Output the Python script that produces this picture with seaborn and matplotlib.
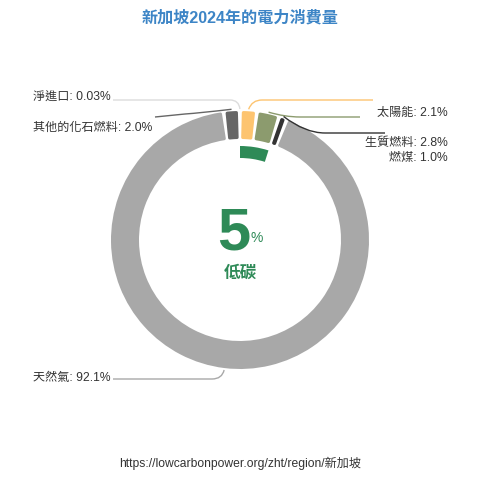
import numpy as np
import matplotlib
matplotlib.use("Agg")
import matplotlib.pyplot as plt
from matplotlib.path import Path
from matplotlib.patches import PathPatch
import seaborn as sns

# ---- data ----
categories = ["太陽能", "生質燃料", "燃煤", "天然氣", "其他的化石燃料", "淨進口"]
values = [2.1, 2.8, 1.0, 92.1, 2.0, 0.03]
colors = ["#fdc470", "#8c9b6e", "#333333", "#a8a8a8", "#666666", "#dcdcdc"]
low_carbon = ["太陽能", "生質燃料"]
title = "新加坡2024年的電力消費量"
source = "https://lowcarbonpower.org/zht/region/新加坡"
center_label = "低碳"

sns.set_theme(style="white")
plt.rcParams["font.family"] = ["Liberation Sans", "Noto Sans CJK TC", "DejaVu Sans"]

W = H = 480
fig = plt.figure(figsize=(4.8, 4.8), dpi=100)
ax = fig.add_axes([0, 0, 1, 1])
ax.set_xlim(0, W)
ax.set_ylim(0, H)
ax.set_aspect("equal")
ax.axis("off")

def Y(py):
    return H - py

cx, cy = 240, Y(240)
R_out, ring = 129, 28
stroke_px = 3.0
pt_per_px = 72 / 100

wedges, _ = ax.pie(values, colors=colors, startangle=90, counterclock=False,
                   center=(cx, cy), radius=R_out - stroke_px / 2,
                   wedgeprops=dict(width=ring - stroke_px, linewidth=0))
mid_r = R_out - ring / 2
shrink = np.degrees((stroke_px / 2 + 1.5) / mid_r)
for w, c in zip(wedges, colors):
    t1, t2 = w.theta1, w.theta2
    if t2 - t1 <= 2 * shrink:
        w.set_visible(False)
        continue
    w.set_theta1(t1 + shrink)
    w.set_theta2(t2 - shrink)
    w.set_edgecolor(c)
    w.set_linewidth(stroke_px * pt_per_px)
    w.set_joinstyle("round")

# inner low-carbon arc
lc_total = sum(v for k, v in zip(categories, values) if k in low_carbon)
green = "#2e8a57"
ax.pie([lc_total, 100 - lc_total], colors=[green, "none"], startangle=90,
       counterclock=False, center=(cx, cy), radius=94,
       wedgeprops=dict(width=12, linewidth=0))
ax.set_xlim(0, W)
ax.set_ylim(0, H)

cum = np.cumsum([0] + values)
tot = sum(values)
def anchor_pt(i, r=131):
    a = np.radians((cum[i] + cum[i + 1]) / 2 / tot * 360)  # clockwise from top
    return cx + r * np.sin(a), cy + r * np.cos(a)

def leader(p0, ctrl, p1, p2, color):
    verts = [p0, ctrl, p1, p2]
    codes = [Path.MOVETO, Path.CURVE3, Path.CURVE3, Path.LINETO]
    ax.add_patch(PathPatch(Path(verts, codes), fc="none", ec=color, lw=1.0))

def fmt(v):
    return f"{v:.2f}" if v < 0.1 else f"{v:.1f}"

txt_color = "#333333"
fs = 8.7
# (ctrl, corner, end, text_x, text_y, ha) per slice index
specs = {
    0: ((252, 100), (262, 100), (373, 100), 448, 113, "right"),
    1: ((285, 117), (300, 117), (360, 117), 448, 143, "right"),
    2: ((305, 133), (325, 133), (385, 133), 448, 158, "right"),
    3: ((222, 379), (212, 379), (113, 379), 33, 378, "left"),
    4: ((200, 113), (185, 114), (155, 117), 33, 128, "left"),
    5: ((239, 100), (230, 100), (113, 100), 33, 98, "left"),
}
for i, (ctrl, corner, end, tx, ty, ha) in specs.items():
    a = anchor_pt(i)
    leader(a, (ctrl[0], Y(ctrl[1])), (corner[0], Y(corner[1])), (end[0], Y(end[1])), colors[i])
    ax.text(tx, Y(ty), f"{categories[i]}: {fmt(values[i])}%", ha=ha, va="center",
            fontsize=fs, color=txt_color)

# center text
ax.text(234, Y(234), f"{round(lc_total):d}", ha="center", va="center", fontsize=43,
        fontweight="bold", color=green)
ax.text(257, Y(238), "%", ha="center", va="center", fontsize=10, color=green)
ax.text(240, Y(273), center_label, ha="center", va="center", fontsize=12,
        fontweight="bold", color=green)

ax.text(240, Y(18), title, ha="center", va="center", fontsize=11.6, fontweight="bold",
        color="#3d85c6")
ax.text(240, Y(463), source, ha="center", va="center", fontsize=8.7, color=txt_color)

fig.savefig("out.png", dpi=100)
